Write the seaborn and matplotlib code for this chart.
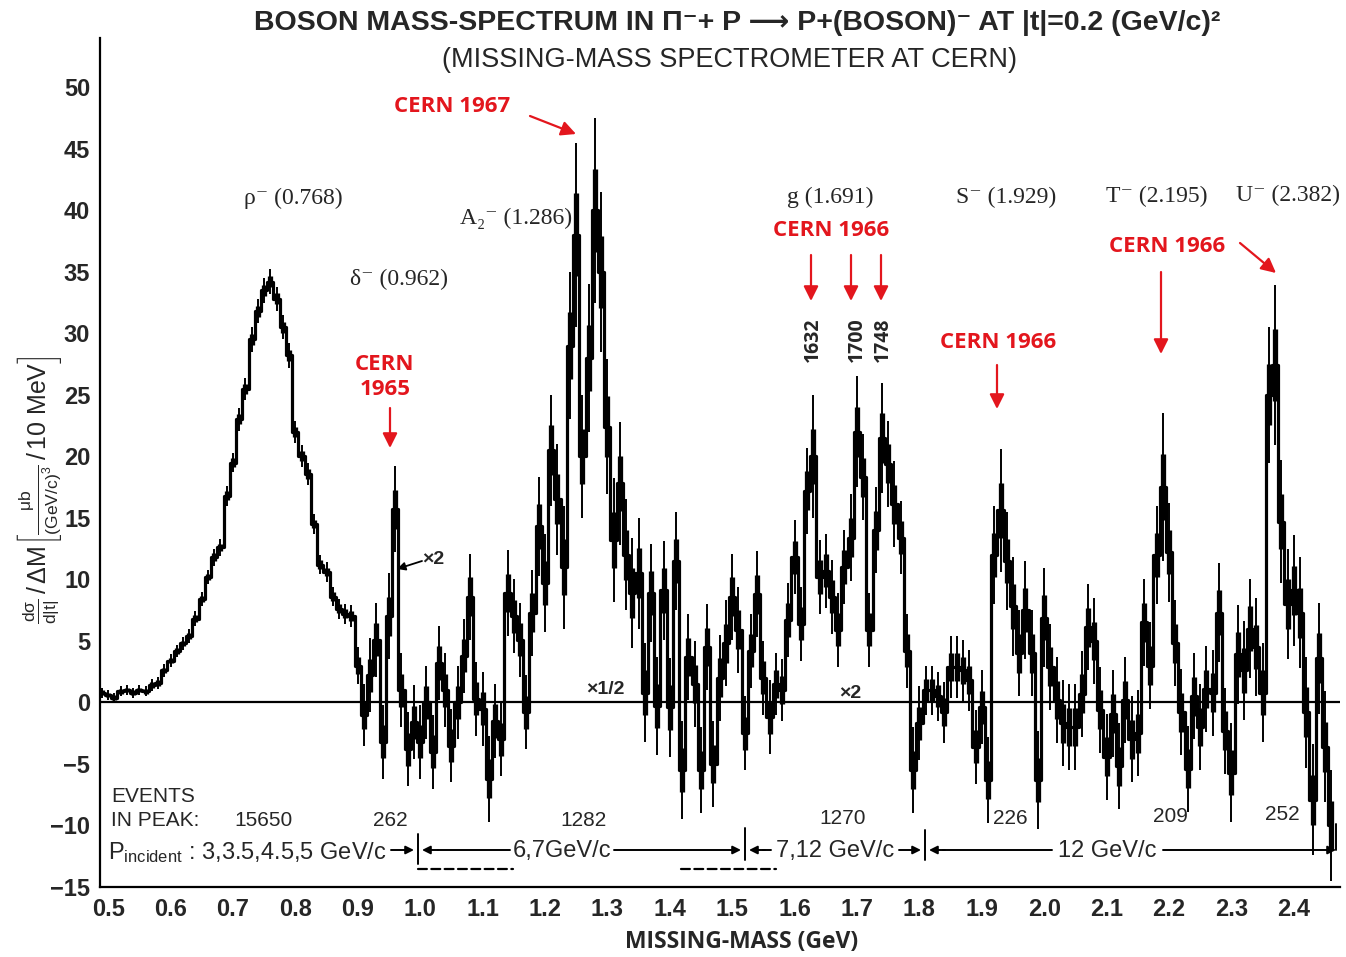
import numpy as np
import pandas as pd
import matplotlib
matplotlib.use("Agg")
import matplotlib.pyplot as plt
import seaborn as sns

# ---------------- data ----------------
bin_start = 0.49      # GeV, first bin centre
bin_width = 0.01      # 10 MeV bins

# 0.49 .. 0.89  (rho region)
rho_vals = [0.8, 0.6, 0.4, 0.9, 1.0, 0.8, 1.0, 0.9, 1.4, 1.6, 2.6, 3.4, 4.2, 4.8,
            5.4, 6.8, 8.4, 10.2, 11.8, 12.6, 16.8, 19.5, 23.0, 25.5, 29.5, 31.8,
            33.5, 34.2, 32.8, 30.5, 28.2, 22.0, 20.0, 18.6, 14.5, 11.2, 10.6, 8.6,
            7.6, 7.2, 7.0]
rho_errs = [0.4, 0.4, 0.4, 0.4, 0.4, 0.4, 0.4, 0.4, 0.5, 0.5, 0.5, 0.5, 0.5, 0.5,
            0.6, 0.6, 0.6, 0.6, 0.7, 0.7, 0.8, 0.8, 0.9, 0.9, 1.0, 1.0,
            1.0, 1.0, 1.0, 1.0, 1.0, 0.9, 0.9, 0.9, 0.8, 0.8, 0.8, 0.8,
            0.8, 0.8, 0.9]
# 0.90 .. 1.17  (delta region)
delta_vals = [3.0, -1.0, 2.2, 5.1, -3.2, 7.0, 15.7, 1.0, -3.8, -1.6, -3.2, 0.0, -4.0, 3.2,
              1.0, -3.5, 0.0, 3.8, 8.6, 0.3, -0.5, -6.2, -1.5, -3.0, 8.9, 7.0, 5.1, -0.8]
delta_errs = [1.5, 2.5, 3.0, 3.0, 3.0, 3.5, 3.5, 3.0, 3.0, 3.0, 3.0, 3.0, 3.0, 3.0,
              3.0, 3.0, 3.0, 3.0, 3.5, 3.0, 3.0, 3.5, 3.0, 3.0, 3.5, 3.0, 3.0, 3.0]
# 1.18 .. 1.45  (A2 region)
a2_vals = [7.3, 14.3, 9.7, 20.5, 16.5, 11.0, 29.0, 38.0, 20.0, 28.0, 40.0, 35.0, 22.4, 13.2,
           17.8, 12.0, 8.9, 10.5, 0.8, 8.9, -0.3, 9.1, -0.4, 11.5, -5.5, 3.7, 1.5, -5.5]
a2_errs = [3.5, 4.0, 4.0, 4.5, 4.5, 5.0, 6.0, 7.5, 5.0, 6.0, 7.5, 6.5, 5.5, 5.0,
           5.0, 4.5, 4.5, 4.5, 4.0, 4.0, 4.0, 4.0, 4.0, 4.0, 4.0, 3.5, 3.5, 3.5]
# 1.46 .. 1.80  (g region)
g_vals = [4.5, -5.0, 2.0, 4.8, 8.6, 5.9, -2.5, 4.2, 8.8, 2.0, -1.2, 1.5, 1.0, 6.7, 11.8,
          6.4, 17.2, 20.0, 10.2, 10.7, 8.6, 5.9, 11.0, 13.4, 22.0, 18.3, 5.9, 14.0, 21.5,
          19.4, 16.1, 13.4, 4.2, -5.5, -1.7]
g_errs = [3.5, 3.5, 3.5, 3.5, 3.5, 3.5, 3.0, 3.0, 3.5, 3.0, 3.0, 2.5, 2.5, 3.0, 3.0,
          3.0, 3.5, 5.0, 3.0, 3.0, 3.0, 3.0, 3.0, 3.5, 4.5, 3.5, 3.0, 3.5, 4.5,
          3.5, 3.5, 3.0, 3.0, 3.5, 3.0]
# 1.81 .. 2.15  (S region)
s_vals = [1.0, 1.0, 0.5, -0.8, 2.9, 2.9, 2.6, 1.8, -3.6, -0.4, -6.3, 12.0, 15.6, 11.5, 7.8,
          4.0, 7.5, 4.0, -6.3, 6.9, 2.9, 0.2, -1.7, -2.0, -2.0, 0.7, 6.1, 5.0, -0.6, -4.4,
          -0.9, -5.2, 0.2, -3.0, -2.5]
s_errs = [2.0, 2.0, 2.0, 2.5, 2.5, 2.5, 2.5, 2.5, 3.0, 3.0, 3.5, 4.0, 5.0, 4.0, 4.0,
          3.5, 4.0, 3.5, 4.0, 4.0, 3.5, 3.5, 3.5, 3.5, 3.5, 3.5, 3.5, 3.5, 3.5, 3.5,
          3.5, 3.5, 3.5, 3.5, 3.5]
# 2.16 .. 2.46  (T and U region)
tu_vals = [6.5, 3.0, 12.0, 17.5, 12.2, 4.8, -0.8, -5.4, 0.5, -2.0, 1.1, 0.8, 7.3, -2.3,
           -5.7, 3.9, 2.6, 6.0, 4.5, 0.8, 25.0, 27.4, 14.7, 8.0, 9.1, 7.3, -0.8, -7.9,
           3.6, -3.6, -10.0]
tu_errs = [3.5, 3.5, 4.0, 6.0, 4.0, 3.5, 3.5, 3.5, 3.5, 3.5, 3.5, 3.5, 4.0, 3.5,
           4.0, 4.0, 4.0, 4.0, 4.0, 4.0, 5.5, 6.5, 5.0, 4.5, 4.5, 4.5, 4.5, 4.5,
           4.5, 4.5, 4.5]

x_ticks = [0.5, 0.6, 0.7, 0.8, 0.9, 1.0, 1.1, 1.2, 1.3, 1.4, 1.5, 1.6, 1.7, 1.8,
           1.9, 2.0, 2.1, 2.2, 2.3, 2.4]
x_ticklabels = ["0.5", "0.6", "0.7", "0.8", "0.9", "1.0", "1.1", "1.2", "1.3", "1.4", "1.5",
                "1.6", "1.7", "1.8", "1.9", "2.0", "2.1", "2.2", "2.3", "2.4"]
y_ticks = [-15, -10, -5, 0, 5, 10, 15, 20, 25, 30, 35, 40, 45, 50]

events_labels = ["15650", "262", "1282", "1270", "226", "209", "252"]
resonance_labels = ["ρ⁻ (0.768)", "δ⁻ (0.962)", "A₂⁻ (1.286)", "g (1.691)",
                    "S⁻ (1.929)", "T⁻ (2.195)", "U⁻ (2.382)"]

# ---------------- build table ----------------
values = np.array(rho_vals + delta_vals + a2_vals + g_vals + s_vals + tu_vals)
errors = np.array(rho_errs + delta_errs + a2_errs + g_errs + s_errs + tu_errs)
mass = np.round(bin_start + bin_width * np.arange(len(values)), 3)
df = pd.DataFrame({"mass": mass, "value": values, "err": errors})

# ---------------- style ----------------
sns.set_style("white")
SANS = ["Liberation Sans", "DejaVu Sans"]
SERIF = ["Liberation Serif", "DejaVu Serif"]
BOLD_SANS = ["Open Sans", "DejaVu Sans"]
plt.rcParams["font.family"] = SANS
plt.rcParams["mathtext.fontset"] = "custom"
plt.rcParams["mathtext.rm"] = "Liberation Sans"
plt.rcParams["mathtext.it"] = "Liberation Sans"
plt.rcParams["mathtext.bf"] = "Liberation Sans:bold"
RED = "#e3161d"

W, H = 1346, 957
fig = plt.figure(figsize=(W / 100, H / 100), dpi=100)
ax = fig.add_axes([100 / W, (H - 887) / H, 1240 / W, 849 / H])


def P(x, y):
    return (x / W, 1 - y / H)


# zero line
ax.axhline(0, color="black", lw=1.6, zorder=1)

# error bars: thin outer + thick inner
ax.errorbar(df["mass"], df["value"], yerr=df["err"], fmt="none", ecolor="black",
            elinewidth=1.4, capsize=0, zorder=2)
ax.errorbar(df["mass"], df["value"], yerr=df["err"] * 0.45, fmt="none", ecolor="black",
            elinewidth=3.8, capsize=0, zorder=2)
sns.lineplot(data=df, x="mass", y="value", drawstyle="steps-mid", color="black",
             linewidth=2.3, estimator=None, sort=True, ax=ax, zorder=3)

ax.set_xlim(0.487, 2.474)
ax.set_ylim(-14.95, 54)
ax.set_xticks(x_ticks)
ax.set_xticklabels(x_ticklabels)
ax.set_yticks(y_ticks)
ax.tick_params(axis="x", direction="in", length=7, width=1.3, labelsize=17, pad=8)
ax.tick_params(axis="y", direction="out", length=6, width=1.3, labelsize=17, pad=1)
for lab in ax.get_xticklabels() + ax.get_yticklabels():
    lab.set_fontweight("bold")
for s in ["top", "right"]:
    ax.spines[s].set_visible(False)
for s in ["left", "bottom"]:
    ax.spines[s].set_linewidth(1.6)
    ax.spines[s].set_color("black")
ax.set_xlabel("")
ax.set_ylabel("")

# ---------------- titles ----------------
fig.text(*P(737, 23), "BOSON MASS-SPECTRUM IN Π⁻+ P ⟶ P+(BOSON)⁻ AT |t|=0.2 (GeV/c)²",
         ha="center", va="center", fontsize=20.5, fontweight="bold", family=SANS)
fig.text(*P(730, 60), "(MISSING-MASS SPECTROMETER AT CERN)", ha="center", va="center",
         fontsize=19.5, family=SANS)
fig.text(*P(742, 942), "MISSING-MASS (GeV)", ha="center", va="center",
         fontsize=16.5, fontweight="bold", family=BOLD_SANS)
fig.text(*P(40, 490),
         r"$\frac{\mathrm{d}\sigma}{\mathrm{d|t|}}\,/\,\Delta\mathrm{M}\left[\frac{\mu\mathrm{b}}{(\mathrm{GeV/c})^3}\,/\,\mathrm{10\ MeV}\right]$",
         rotation=90, ha="center", va="center", fontsize=18)

# ---------------- resonance labels ----------------
res_pos = [(293, 198), (399, 279), (516, 218), (830, 197), (1006, 197), (1157, 196), (1288, 195)]
for lab, (x, y) in zip(resonance_labels, res_pos):
    fig.text(*P(x, y), lab, ha="center", va="center", fontsize=17, family=SERIF)

# rotated peak masses
for lab, x in [("1632", 813), ("1700", 857), ("1748", 883)]:
    fig.text(*P(x, 340), lab, rotation=90, ha="center", va="center", fontsize=14,
             fontweight="bold", family=BOLD_SANS)

# ---------------- red CERN annotations ----------------
red_kw = dict(ha="center", va="center", fontsize=16, fontweight="bold", color=RED, family=BOLD_SANS)
fig.text(*P(452, 107), "CERN 1967", **red_kw)
fig.text(*P(385, 377), "CERN\n1965", linespacing=1.25, **red_kw)
fig.text(*P(831, 231), "CERN 1966", **red_kw)
fig.text(*P(998, 343), "CERN 1966", **red_kw)
fig.text(*P(1167, 247), "CERN 1966", **red_kw)


def red_arrow(x0, y0, x1, y1):
    ax.annotate("", xy=P(x1, y1), xytext=P(x0, y0), xycoords="figure fraction",
                textcoords="figure fraction",
                arrowprops=dict(arrowstyle="-|>", color=RED, lw=1.6, mutation_scale=22,
                                shrinkA=0, shrinkB=0))


red_arrow(530, 116, 576, 134)
red_arrow(390, 408, 390, 448)
red_arrow(811, 255, 811, 301)
red_arrow(851, 255, 851, 301)
red_arrow(881, 255, 881, 301)
red_arrow(997, 365, 997, 409)
red_arrow(1161, 272, 1161, 354)
red_arrow(1240, 243, 1276, 273)

# scale factors
blk = dict(ha="center", va="center", fontsize=14, fontweight="bold", family=SANS)
fig.text(*P(433, 560), "×2", **blk)
ax.annotate("", xy=P(397, 569), xytext=P(422, 561), xycoords="figure fraction",
            textcoords="figure fraction",
            arrowprops=dict(arrowstyle="-|>", color="black", lw=1.3, mutation_scale=12,
                            shrinkA=0, shrinkB=0))
fig.text(*P(605, 689), "×1/2", **blk)
fig.text(*P(850, 693), "×2", **blk)

# ---------------- events / incident momentum ----------------
ev_kw = dict(va="center", fontsize=15, family=SANS)
fig.text(*P(111, 796), "EVENTS", ha="left", **ev_kw)
fig.text(*P(111, 821), "IN PEAK:", ha="left", **ev_kw)
for lab, x, y in zip(events_labels, [264, 390, 583, 843, 1010, 1170, 1282],
                     [821, 821, 820, 818, 818, 817, 815]):
    fig.text(*P(x, y), lab, ha="center", **ev_kw)

mom_kw = dict(va="center", fontsize=17, family=SANS)
fig.text(*P(108, 853), r"P$_{\mathrm{incident}}$" + " : 3,3.5,4.5,5 GeV/c", ha="left", **mom_kw)
fig.text(*P(562, 851), "6,7GeV/c", ha="center", **mom_kw)
fig.text(*P(835, 851), "7,12 GeV/c", ha="center", **mom_kw)
fig.text(*P(1107, 851), "12 GeV/c", ha="center", **mom_kw)


def k_line(x0, y0, x1, y1, style="-", lw=1.4, ls="-"):
    ax.annotate("", xy=P(x1, y1), xytext=P(x0, y0), xycoords="figure fraction",
                textcoords="figure fraction",
                arrowprops=dict(arrowstyle=style, color="black", lw=lw, linestyle=ls,
                                mutation_scale=12, shrinkA=0, shrinkB=0))


k_line(391, 850, 414, 850, "-|>")
k_line(418, 834, 418, 864)
k_line(438, 850, 422, 850, "-|>")
k_line(438, 850, 510, 850)
k_line(614, 850, 741, 850, "-|>")
k_line(745, 828, 745, 860)
k_line(765, 850, 749, 850, "-|>")
k_line(763, 850, 771, 850)
k_line(899, 850, 921, 850, "-|>")
k_line(925, 830, 925, 860)
k_line(945, 850, 929, 850, "-|>")
k_line(943, 850, 1052, 850)
k_line(1163, 850, 1336, 850, "-|>")
k_line(1336, 824, 1336, 850)
k_line(418, 869, 513, 869, lw=1.6, ls=(0, (4, 2)))
k_line(681, 869, 776, 869, lw=1.6, ls=(0, (4, 2)))

fig.savefig("out.png", dpi=100)
